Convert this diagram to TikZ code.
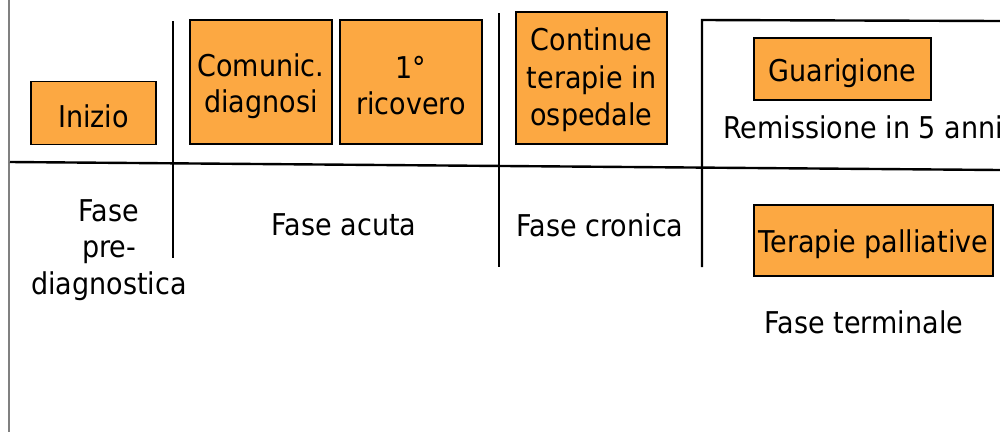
\documentclass[tikz,border=0pt]{standalone}
\usepackage{fontspec}
\setmainfont{DejaVu Sans}[FakeStretch=0.90]
\definecolor{phasefill}{RGB}{252,168,66}
\definecolor{edgegray}{RGB}{128,128,128}
\begin{document}
\begin{tikzpicture}[x=1pt,y=-1pt,
  every node/.style={font=\fontsize{30}{36}\selectfont, inner sep=0pt},
  box/.style={draw=black, line width=1.6pt, fill=phasefill},
  boxtext/.style={align=center},
  label/.style={align=center},
  rule/.style={line width=2.4pt, black}]
\clip (0,0) rectangle (1000,432);
\fill[white] (0,0) rectangle (1000,432);

% frame edge on the left
\draw[edgegray, line width=2pt] (9,0) -- (9,432);

% time axis and phase separators
\coordinate (axisL) at (10,162);
\coordinate (axisR) at (1000,170);
\draw[rule] (axisL) -- (axisR);
\coordinate (s1t) at (173,21);  \coordinate (s1b) at (173,258);
\coordinate (s2t) at (499,13);  \coordinate (s2b) at (499,267);
\coordinate (s3b) at (702,267); \coordinate (s3t) at (702,20);
\coordinate (s3r) at (1000,21);
\draw[rule] (s1t) -- (s1b);
\draw[rule] (s2t) -- (s2b);
\draw[rule] (s3b) -- (s3t) -- (s3r);

% events: boxes, then their captions
\node[box, minimum width=125, minimum height=63] (inizio) at (93.5,113) {};
\node[box, minimum width=142, minimum height=124] (comunic) at (261,82) {};
\node[box, minimum width=142, minimum height=124] (ricovero) at (411,82) {};
\node[box, minimum width=151, minimum height=132] (continue) at (591.5,78) {};
\node[box, minimum width=177, minimum height=62] (guarigione) at (842.5,69) {};
\node[box, minimum width=239, minimum height=71] (palliative) at (873.5,240.5) {};

\node[boxtext] (inizioT) at ([yshift=-3pt]inizio.center) {Inizio};
\node[boxtext] (comunicT) at ([yshift=-4pt]comunic.center) {Comunic.\\diagnosi};
\node[boxtext] (ricoveroT) at ([yshift=-4pt]ricovero.center) {1°\\ricovero};
\node[boxtext, font=\fontsize{30}{37.5}\selectfont] (continueT) at ([yshift=-2pt]continue.center) {Continue\\terapie in\\ospedale};
\node[boxtext] (guarigioneT) at ([yshift=-4pt]guarigione.center) {Guarigione};
\node[boxtext] (palliativeT) at ([yshift=-4pt]palliative.center) {Terapie palliative};
\node[anchor=base west] (remissione) at (723,138) {Remissione in 5 anni};

% phase names
\node[label, font=\fontsize{30}{36.5}\selectfont] (prediag) at (109,250) {Fase\\pre-\\diagnostica};
\node[label] (acuta) at (344,225) {Fase acuta};
\node[label] (cronica) at (600,225) {Fase cronica};
\node[label] (terminale) at (864,322) {Fase terminale};
\end{tikzpicture}
\end{document}
